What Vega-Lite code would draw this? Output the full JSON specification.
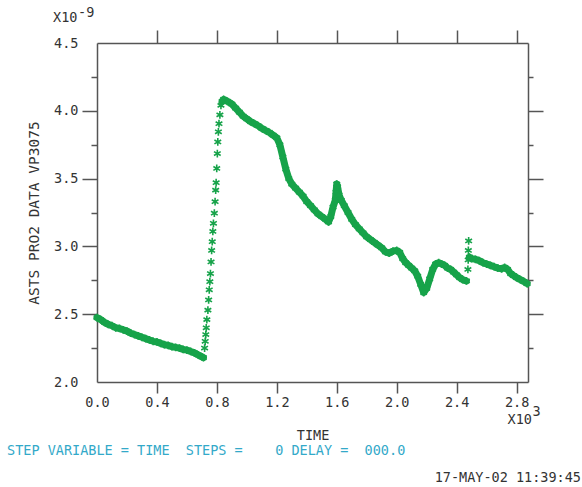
{
  "$schema": "https://vega.github.io/schema/vega-lite/v6.json",
  "width": 431,
  "height": 339,
  "autosize": {"type": "none"},
  "padding": {"left": 97, "top": 43, "right": 54, "bottom": 105},
  "background": "white",
  "config": {
    "view": {"stroke": null},
    "font": "DejaVu Sans Mono",
    "axis": {
      "domainColor": "#555555",
      "domainWidth": 1.5,
      "tickColor": "#555555",
      "tickWidth": 1.5,
      "labelFont": "DejaVu Sans Mono",
      "labelFontSize": 13.5,
      "labelColor": "#333333",
      "labelFlush": false,
      "titleFont": "DejaVu Sans Mono",
      "titleFontWeight": "normal",
      "titleColor": "#333333",
      "grid": false
    }
  },
  "datasets": {
    "curve": [
      {"t": 0.000, "v": 2.475, "seg": "A"},
      {"t": 0.025, "v": 2.460, "seg": "A"},
      {"t": 0.050, "v": 2.440, "seg": "A"},
      {"t": 0.075, "v": 2.425, "seg": "A"},
      {"t": 0.100, "v": 2.415, "seg": "A"},
      {"t": 0.125, "v": 2.400, "seg": "A"},
      {"t": 0.150, "v": 2.395, "seg": "A"},
      {"t": 0.175, "v": 2.385, "seg": "A"},
      {"t": 0.200, "v": 2.375, "seg": "A"},
      {"t": 0.225, "v": 2.360, "seg": "A"},
      {"t": 0.250, "v": 2.350, "seg": "A"},
      {"t": 0.275, "v": 2.340, "seg": "A"},
      {"t": 0.300, "v": 2.330, "seg": "A"},
      {"t": 0.325, "v": 2.320, "seg": "A"},
      {"t": 0.350, "v": 2.310, "seg": "A"},
      {"t": 0.375, "v": 2.300, "seg": "A"},
      {"t": 0.400, "v": 2.295, "seg": "A"},
      {"t": 0.425, "v": 2.285, "seg": "A"},
      {"t": 0.450, "v": 2.275, "seg": "A"},
      {"t": 0.475, "v": 2.270, "seg": "A"},
      {"t": 0.500, "v": 2.260, "seg": "A"},
      {"t": 0.525, "v": 2.255, "seg": "A"},
      {"t": 0.550, "v": 2.250, "seg": "A"},
      {"t": 0.575, "v": 2.240, "seg": "A"},
      {"t": 0.600, "v": 2.235, "seg": "A"},
      {"t": 0.625, "v": 2.225, "seg": "A"},
      {"t": 0.650, "v": 2.215, "seg": "A"},
      {"t": 0.675, "v": 2.200, "seg": "A"},
      {"t": 0.700, "v": 2.185, "seg": "A"},
      {"t": 0.710, "v": 2.180, "seg": "A"},
      {"t": 0.718, "v": 2.250, "seg": "R"},
      {"t": 0.722, "v": 2.300, "seg": "R"},
      {"t": 0.726, "v": 2.350, "seg": "R"},
      {"t": 0.729, "v": 2.400, "seg": "R"},
      {"t": 0.733, "v": 2.460, "seg": "R"},
      {"t": 0.740, "v": 2.530, "seg": "R"},
      {"t": 0.745, "v": 2.605, "seg": "R"},
      {"t": 0.749, "v": 2.680, "seg": "R"},
      {"t": 0.753, "v": 2.740, "seg": "R"},
      {"t": 0.757, "v": 2.800, "seg": "R"},
      {"t": 0.761, "v": 2.885, "seg": "R"},
      {"t": 0.765, "v": 2.970, "seg": "R"},
      {"t": 0.769, "v": 3.035, "seg": "R"},
      {"t": 0.773, "v": 3.110, "seg": "R"},
      {"t": 0.777, "v": 3.170, "seg": "R"},
      {"t": 0.783, "v": 3.245, "seg": "R"},
      {"t": 0.788, "v": 3.330, "seg": "R"},
      {"t": 0.792, "v": 3.415, "seg": "R"},
      {"t": 0.795, "v": 3.470, "seg": "R"},
      {"t": 0.799, "v": 3.575, "seg": "R"},
      {"t": 0.803, "v": 3.685, "seg": "R"},
      {"t": 0.806, "v": 3.770, "seg": "R"},
      {"t": 0.810, "v": 3.845, "seg": "R"},
      {"t": 0.814, "v": 3.905, "seg": "R"},
      {"t": 0.820, "v": 3.970, "seg": "R"},
      {"t": 0.827, "v": 4.040, "seg": "R"},
      {"t": 0.835, "v": 4.070, "seg": "B"},
      {"t": 0.845, "v": 4.085, "seg": "B"},
      {"t": 0.870, "v": 4.070, "seg": "B"},
      {"t": 0.900, "v": 4.050, "seg": "B"},
      {"t": 0.925, "v": 4.020, "seg": "B"},
      {"t": 0.950, "v": 3.990, "seg": "B"},
      {"t": 0.975, "v": 3.960, "seg": "B"},
      {"t": 1.000, "v": 3.940, "seg": "B"},
      {"t": 1.025, "v": 3.920, "seg": "B"},
      {"t": 1.050, "v": 3.905, "seg": "B"},
      {"t": 1.075, "v": 3.890, "seg": "B"},
      {"t": 1.100, "v": 3.870, "seg": "B"},
      {"t": 1.125, "v": 3.855, "seg": "B"},
      {"t": 1.150, "v": 3.840, "seg": "B"},
      {"t": 1.175, "v": 3.820, "seg": "B"},
      {"t": 1.200, "v": 3.800, "seg": "B"},
      {"t": 1.220, "v": 3.750, "seg": "B"},
      {"t": 1.240, "v": 3.660, "seg": "B"},
      {"t": 1.260, "v": 3.570, "seg": "B"},
      {"t": 1.280, "v": 3.500, "seg": "B"},
      {"t": 1.300, "v": 3.460, "seg": "B"},
      {"t": 1.325, "v": 3.430, "seg": "B"},
      {"t": 1.350, "v": 3.400, "seg": "B"},
      {"t": 1.375, "v": 3.370, "seg": "B"},
      {"t": 1.400, "v": 3.330, "seg": "B"},
      {"t": 1.425, "v": 3.300, "seg": "B"},
      {"t": 1.450, "v": 3.270, "seg": "B"},
      {"t": 1.475, "v": 3.240, "seg": "B"},
      {"t": 1.500, "v": 3.220, "seg": "B"},
      {"t": 1.525, "v": 3.200, "seg": "B"},
      {"t": 1.545, "v": 3.180, "seg": "B"},
      {"t": 1.560, "v": 3.220, "seg": "B"},
      {"t": 1.575, "v": 3.290, "seg": "B"},
      {"t": 1.590, "v": 3.340, "seg": "B"},
      {"t": 1.595, "v": 3.400, "seg": "B"},
      {"t": 1.600, "v": 3.460, "seg": "B"},
      {"t": 1.605, "v": 3.440, "seg": "B"},
      {"t": 1.615, "v": 3.380, "seg": "B"},
      {"t": 1.630, "v": 3.340, "seg": "B"},
      {"t": 1.650, "v": 3.300, "seg": "B"},
      {"t": 1.675, "v": 3.250, "seg": "B"},
      {"t": 1.700, "v": 3.200, "seg": "B"},
      {"t": 1.725, "v": 3.160, "seg": "B"},
      {"t": 1.750, "v": 3.130, "seg": "B"},
      {"t": 1.775, "v": 3.100, "seg": "B"},
      {"t": 1.800, "v": 3.070, "seg": "B"},
      {"t": 1.825, "v": 3.050, "seg": "B"},
      {"t": 1.850, "v": 3.030, "seg": "B"},
      {"t": 1.875, "v": 3.010, "seg": "B"},
      {"t": 1.900, "v": 2.990, "seg": "B"},
      {"t": 1.925, "v": 2.960, "seg": "B"},
      {"t": 1.950, "v": 2.950, "seg": "B"},
      {"t": 1.975, "v": 2.965, "seg": "B"},
      {"t": 2.000, "v": 2.970, "seg": "B"},
      {"t": 2.020, "v": 2.955, "seg": "B"},
      {"t": 2.040, "v": 2.910, "seg": "B"},
      {"t": 2.060, "v": 2.880, "seg": "B"},
      {"t": 2.080, "v": 2.860, "seg": "B"},
      {"t": 2.100, "v": 2.840, "seg": "B"},
      {"t": 2.120, "v": 2.820, "seg": "B"},
      {"t": 2.140, "v": 2.780, "seg": "B"},
      {"t": 2.160, "v": 2.720, "seg": "B"},
      {"t": 2.180, "v": 2.660, "seg": "B"},
      {"t": 2.200, "v": 2.690, "seg": "B"},
      {"t": 2.220, "v": 2.760, "seg": "B"},
      {"t": 2.240, "v": 2.830, "seg": "B"},
      {"t": 2.260, "v": 2.870, "seg": "B"},
      {"t": 2.280, "v": 2.880, "seg": "B"},
      {"t": 2.300, "v": 2.870, "seg": "B"},
      {"t": 2.320, "v": 2.860, "seg": "B"},
      {"t": 2.340, "v": 2.840, "seg": "B"},
      {"t": 2.360, "v": 2.830, "seg": "B"},
      {"t": 2.380, "v": 2.810, "seg": "B"},
      {"t": 2.400, "v": 2.790, "seg": "B"},
      {"t": 2.420, "v": 2.770, "seg": "B"},
      {"t": 2.440, "v": 2.755, "seg": "B"},
      {"t": 2.465, "v": 2.745, "seg": "B"},
      {"t": 2.475, "v": 2.830, "seg": "S"},
      {"t": 2.477, "v": 2.900, "seg": "S"},
      {"t": 2.478, "v": 2.970, "seg": "S"},
      {"t": 2.480, "v": 3.040, "seg": "S"},
      {"t": 2.485, "v": 2.920, "seg": "C"},
      {"t": 2.500, "v": 2.910, "seg": "C"},
      {"t": 2.525, "v": 2.905, "seg": "C"},
      {"t": 2.550, "v": 2.895, "seg": "C"},
      {"t": 2.575, "v": 2.880, "seg": "C"},
      {"t": 2.600, "v": 2.870, "seg": "C"},
      {"t": 2.625, "v": 2.860, "seg": "C"},
      {"t": 2.650, "v": 2.850, "seg": "C"},
      {"t": 2.675, "v": 2.840, "seg": "C"},
      {"t": 2.700, "v": 2.835, "seg": "C"},
      {"t": 2.720, "v": 2.845, "seg": "C"},
      {"t": 2.740, "v": 2.830, "seg": "C"},
      {"t": 2.760, "v": 2.800, "seg": "C"},
      {"t": 2.780, "v": 2.785, "seg": "C"},
      {"t": 2.800, "v": 2.770, "seg": "C"},
      {"t": 2.825, "v": 2.755, "seg": "C"},
      {"t": 2.850, "v": 2.740, "seg": "C"},
      {"t": 2.870, "v": 2.725, "seg": "C"}
    ]
  },
  "layer": [
    {
      "data": {"name": "curve"},
      "transform": [{"filter": "datum.seg != 'R' && datum.seg != 'S'"}],
      "mark": {"type": "line", "color": "#17a34a", "strokeWidth": 7, "strokeCap": "round", "strokeJoin": "round"},
      "encoding": {
        "x": {
          "field": "t", "type": "quantitative",
          "scale": {"domain": [0, 2.876], "nice": false, "zero": false},
          "axis": {
            "orient": "bottom",
            "values": [0, 0.4, 0.8, 1.2, 1.6, 2.0, 2.4, 2.8],
            "format": ".1f",
            "tickSize": 11,
            "labelPadding": 2,
            "tickColor": {"condition": {"test": "datum.value == 0", "value": "transparent"}, "value": "#555555"},
            "title": "TIME",
            "titleFontSize": 13.5,
            "titlePadding": 20
          }
        },
        "y": {
          "field": "v", "type": "quantitative",
          "scale": {"domain": [2, 4.5], "nice": false, "zero": false},
          "axis": {
            "orient": "left",
            "values": [2, 2.5, 3, 3.5, 4, 4.5],
            "format": ".1f",
            "tickSize": 15,
            "labelPadding": 4,
            "tickColor": {"condition": {"test": "datum.value == 2 || datum.value == 4.5", "value": "transparent"}, "value": "#555555"},
            "title": "ASTS PRO2 DATA VP3075",
            "titleFontSize": 14.5,
            "titlePadding": 12
          }
        },
        "detail": {"field": "seg"}
      }
    },
    {
      "data": {"name": "curve"},
      "mark": {"type": "point", "shape": "M0,-1L0,1M-0.87,-0.5L0.87,0.5M-0.87,0.5L0.87,-0.5", "filled": false, "stroke": "#17a34a", "strokeWidth": 1.6, "size": 60, "opacity": 1},
      "encoding": {
        "x": {
          "field": "t", "type": "quantitative",
          "axis": {"orient": "top", "values": [0.4, 0.8, 1.2, 1.6, 2.0, 2.4, 2.8], "labels": false, "tickSize": 13, "title": null}
        },
        "y": {
          "field": "v", "type": "quantitative",
          "axis": {"orient": "right", "values": [2.5, 3, 3.5, 4], "labels": false, "tickSize": 15, "title": null}
        }
      }
    },
    {
      "data": {"values": [{}]},
      "mark": {"type": "text", "text": "X10", "align": "left", "baseline": "alphabetic", "dx": -44, "dy": -21, "fontSize": 13.5, "color": "#333333", "font": "DejaVu Sans Mono"},
      "encoding": {
        "x": {"datum": 0, "type": "quantitative", "axis": null},
        "y": {"datum": 4.5, "type": "quantitative", "axis": {"orient": "left", "values": [2.25, 2.75, 3.25, 3.75, 4.25], "labels": false, "tickSize": 6, "domain": false, "title": null}}
      }
    },
    {
      "data": {"values": [{}]},
      "mark": {"type": "text", "text": "-9", "align": "left", "baseline": "alphabetic", "dx": -19, "dy": -26, "fontSize": 13.5, "color": "#333333", "font": "DejaVu Sans Mono"},
      "encoding": {
        "x": {"datum": 0, "type": "quantitative", "axis": null},
        "y": {"datum": 4.5, "type": "quantitative", "axis": {"orient": "right", "values": [2.25, 2.75, 3.25, 3.75, 4.25], "labels": false, "tickSize": 5, "domain": false, "title": null}}
      }
    },
    {
      "data": {"values": [{}]},
      "mark": {"type": "text", "text": "X10", "align": "left", "baseline": "alphabetic", "dx": -9, "dy": 42, "fontSize": 13.5, "color": "#333333", "font": "DejaVu Sans Mono"},
      "encoding": {
        "x": {"datum": 2.8, "type": "quantitative", "axis": null},
        "y": {"datum": 2.0, "type": "quantitative", "axis": null}
      }
    },
    {
      "data": {"values": [{}]},
      "mark": {"type": "text", "text": "3", "align": "left", "baseline": "alphabetic", "dx": 16, "dy": 34, "fontSize": 13.5, "color": "#333333", "font": "DejaVu Sans Mono"},
      "encoding": {
        "x": {"datum": 2.8, "type": "quantitative", "axis": null},
        "y": {"datum": 2.0, "type": "quantitative", "axis": null}
      }
    },
    {
      "data": {"values": [{}]},
      "mark": {"type": "text", "text": "STEP VARIABLE = TIME \u00a0STEPS = \u00a0\u00a0\u00a00 DELAY = \u00a0000.0", "align": "left", "baseline": "alphabetic", "dx": -90, "dy": 73, "fontSize": 13.5, "color": "#33a9c9", "font": "DejaVu Sans Mono"},
      "encoding": {
        "x": {"datum": 0, "type": "quantitative", "axis": null},
        "y": {"datum": 2.0, "type": "quantitative", "axis": null}
      }
    },
    {
      "data": {"values": [{}]},
      "mark": {"type": "text", "text": "17-MAY-02 11:39:45", "align": "right", "baseline": "alphabetic", "dx": 53, "dy": 100, "fontSize": 13.5, "color": "#333333", "font": "DejaVu Sans Mono"},
      "encoding": {
        "x": {"datum": 2.876, "type": "quantitative", "axis": null},
        "y": {"datum": 2.0, "type": "quantitative", "axis": null}
      }
    }
  ],
  "resolve": {"axis": {"x": "independent", "y": "independent"}}
}
